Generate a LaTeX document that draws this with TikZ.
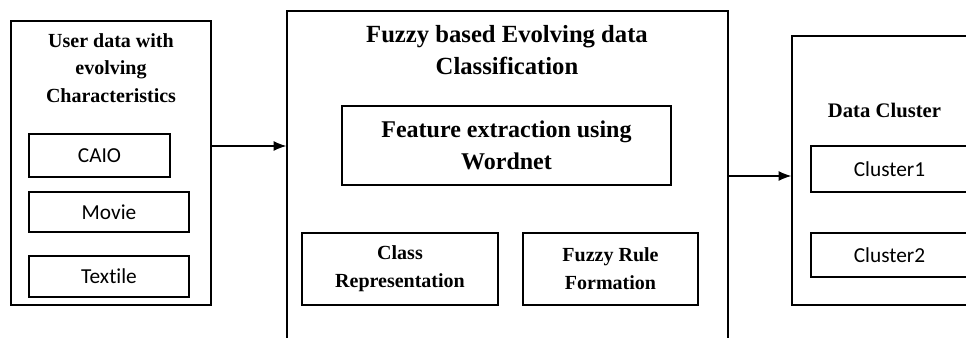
\documentclass[tikz,border=0pt]{standalone}
\usepackage{fontspec}
\setmainfont{Liberation Serif}
\newfontfamily\calibri[Ligatures=NoCommon]{Carlito}
\usetikzlibrary{arrows.meta}

\tikzset{
  outerbox/.style={draw, line width=1pt, inner sep=0pt},
  itembox/.style={draw, line width=1pt, inner sep=0pt, font=\calibri\fontsize{16}{19}\selectfont},
  stagebox/.style={draw, line width=1pt, inner sep=0pt, align=center},
  headtext/.style={inner sep=0.75pt, align=center, font=\bfseries\fontsize{15}{20.5}\selectfont},
  flow/.style={-{Latex[length=9.5pt,width=7.5pt]}, line width=1pt},
}

\begin{document}
\begin{tikzpicture}[x=0.75pt,y=0.75pt,yscale=-1,xscale=1]
\clip (0,0) rectangle (966,338); %diagram is 966 x 338, middle and right boxes run off the edge

%Shape: Rectangle [user data]
\node[outerbox, minimum width=150pt, minimum height=213pt] (user) at (111,163) {};
%Shape: Rectangle [fuzzy classification]
\node[outerbox, minimum width=330.75pt, minimum height=261.75pt] (fuzzy) at (507.5,185.5) {};
%Shape: Rectangle [data cluster]
\node[outerbox, minimum width=148.5pt, minimum height=201.75pt] (cluster) at (891,170.5) {};

% Text Node
\node[headtext] (usertitle) at (111,68) {User data with\\evolving\\Characteristics};
% Text Node
\node[headtext, font=\bfseries\fontsize{18.5}{24}\selectfont] (fuzzytitle) at (507,50) {Fuzzy based Evolving data\\Classification};
% Text Node
\node[headtext, font=\bfseries\fontsize{15.5}{20}\selectfont] (clustertitle) at (884.5,110) {Data Cluster};

%Shape: Rectangle [inputs]
\node[itembox, minimum width=105.75pt, minimum height=32.25pt] (caio) at (99.5,155.5) {CAIO};
\node[itembox, minimum width=120pt, minimum height=30pt] (movie) at (109,212) {Movie};
\node[itembox, minimum width=120pt, minimum height=30.75pt] (textile) at (109,276.5) {Textile};

%Shape: Rectangle [stages]
\node[stagebox, minimum width=246.75pt, minimum height=59.25pt, font=\bfseries\fontsize{18}{24}\selectfont] (feature) at (506.5,145.5) {Feature extraction using\\Wordnet};
\node[stagebox, minimum width=147pt, minimum height=54pt, font=\bfseries\fontsize{15}{21}\selectfont] (classrep) at (400,269) {Class\\Representation};
\node[stagebox, minimum width=131.25pt, minimum height=54pt, font=\bfseries\fontsize{15}{21}\selectfont] (fuzzyrule) at (610.5,269) {Fuzzy Rule\\Formation};

%Shape: Rectangle [outputs]
\node[itembox, minimum width=117.75pt, minimum height=34.5pt] (cluster1) at (889.5,169) {Cluster1};
\node[itembox, minimum width=117.75pt, minimum height=33pt] (cluster2) at (889.5,255) {Cluster2};

%Straight Lines [arrows]
\draw[flow] (user.east |- 0,146) -- (fuzzy.west |- 0,146);
\draw[flow] (fuzzy.east |- 0,176) -- (cluster.west |- 0,176);

\end{tikzpicture}
\end{document}
